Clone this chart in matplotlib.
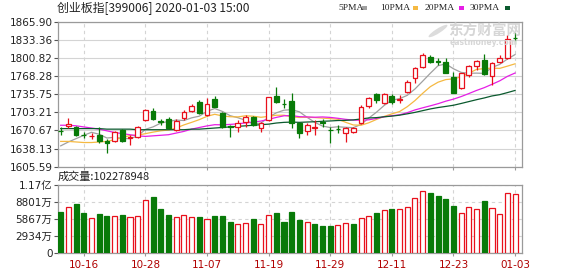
import matplotlib
matplotlib.use('Agg')
import matplotlib.pyplot as plt
from matplotlib.patches import Rectangle, Ellipse

plt.rcParams['font.family'] = ['DejaVu Sans', 'Noto Sans CJK SC']

# --- données (creation board index, daily) ---
dates = ['10-11', '10-14', '10-15', '10-16', '10-17', '10-18', '10-21', '10-22', '10-23', '10-24',
         '10-25', '10-28', '10-29', '10-30', '10-31', '11-01', '11-04', '11-05', '11-06', '11-07',
         '11-08', '11-11', '11-12', '11-13', '11-14', '11-15', '11-18', '11-19', '11-20', '11-21',
         '11-22', '11-25', '11-26', '11-27', '11-28', '11-29', '12-02', '12-03', '12-04', '12-05',
         '12-06', '12-09', '12-10', '12-11', '12-12', '12-13', '12-16', '12-17', '12-18', '12-19',
         '12-20', '12-23', '12-24', '12-25', '12-26', '12-27', '12-30', '12-31', '01-02', '01-03']
opens = [1670.5, 1679.0, 1676.3, 1663.0, 1660.0, 1662.5, 1652.3, 1652.3, 1671.5, 1656.5,
         1659.5, 1689.4, 1706.2, 1687.0, 1690.6, 1671.4, 1692.4, 1706.2, 1722.3, 1698.4,
         1726.5, 1701.4, 1678.6, 1677.4, 1686.4, 1694.2, 1674.4, 1689.4, 1732.5, 1718.7,
         1724.0, 1683.4, 1670.2, 1675.6, 1685.2, 1672.0, 1673.0, 1666.7, 1668.4, 1683.4,
         1714.5, 1736.0, 1719.3, 1732.5, 1725.3, 1740.3, 1764.2, 1785.2, 1801.9, 1794.5,
         1794.1, 1766.0, 1746.3, 1770.2, 1787.0, 1797.1, 1768.4, 1794.1, 1800.1, 1837.0]
highs = [1676.3, 1692.4, 1678.6, 1667.3, 1665.5, 1677.4, 1654.7, 1670.3, 1672.7, 1662.5,
         1678.6, 1708.6, 1710.4, 1690.6, 1695.4, 1690.6, 1707.4, 1718.1, 1725.3, 1728.3,
         1732.5, 1704.4, 1680.4, 1689.4, 1698.4, 1696.0, 1686.4, 1731.3, 1748.0, 1726.5,
         1738.5, 1686.4, 1683.4, 1689.4, 1690.6, 1677.4, 1680.4, 1677.4, 1677.4, 1716.3,
         1731.3, 1737.3, 1737.3, 1736.0, 1734.3, 1761.2, 1785.2, 1809.1, 1806.1, 1800.1,
         1800.1, 1776.2, 1774.4, 1788.2, 1797.1, 1807.9, 1794.1, 1806.1, 1842.0, 1846.2]
lows = [1662.5, 1674.5, 1660.7, 1656.5, 1654.7, 1647.5, 1630.8, 1650.5, 1650.5, 1644.5,
        1656.5, 1688.2, 1689.4, 1680.4, 1672.6, 1670.2, 1689.4, 1704.4, 1700.2, 1696.6,
        1712.1, 1674.4, 1658.3, 1668.4, 1677.4, 1678.0, 1668.4, 1688.2, 1720.5, 1710.3,
        1674.4, 1656.5, 1662.5, 1662.5, 1677.4, 1648.7, 1665.5, 1650.5, 1665.5, 1682.2,
        1710.3, 1720.5, 1718.1, 1718.1, 1720.5, 1737.3, 1755.2, 1782.2, 1791.1, 1788.2,
        1773.2, 1737.3, 1744.5, 1767.2, 1779.2, 1770.2, 1752.3, 1791.1, 1798.3, 1825.9]
closes = [1669.5, 1681.5, 1662.5, 1662.0, 1661.0, 1652.3, 1647.5, 1668.5, 1652.3, 1659.0,
          1676.3, 1707.4, 1690.6, 1686.0, 1674.4, 1688.2, 1703.2, 1714.5, 1701.4, 1717.5,
          1713.3, 1677.4, 1676.2, 1683.4, 1694.2, 1680.4, 1684.6, 1730.1, 1722.3, 1718.1,
          1684.6, 1665.5, 1680.4, 1677.4, 1684.6, 1671.4, 1672.6, 1675.6, 1674.4, 1713.3,
          1728.3, 1725.3, 1736.1, 1722.3, 1726.5, 1758.2, 1782.2, 1806.1, 1794.1, 1794.1,
          1774.4, 1738.5, 1773.2, 1786.4, 1795.3, 1772.0, 1792.3, 1800.1, 1834.2, 1836.0]

ma5 = [1643.0, 1650.0, 1656.0, 1662.0, 1667.3, 1663.9, 1657.1, 1658.3, 1656.3, 1655.9,
       1660.7, 1672.7, 1677.1, 1683.9, 1686.9, 1689.3, 1688.5, 1693.3, 1696.3, 1705.0,
       1710.0, 1704.8, 1697.2, 1693.6, 1688.9, 1682.3, 1683.8, 1694.5, 1702.3, 1707.1,
       1707.9, 1704.1, 1694.2, 1685.2, 1678.5, 1675.9, 1677.3, 1676.3, 1675.7, 1681.5,
       1692.8, 1703.4, 1715.5, 1725.1, 1727.7, 1733.7, 1745.1, 1759.1, 1773.4, 1786.9,
       1790.2, 1781.4, 1774.9, 1773.3, 1773.6, 1773.1, 1783.8, 1789.2, 1798.8, 1806.9]
ma10 = [1651.0, 1651.0, 1650.0, 1649.0, 1649.0, 1650.0, 1651.0, 1654.0, 1658.0, 1661.6,
        1662.3, 1664.9, 1667.7, 1670.1, 1671.4, 1675.0, 1680.6, 1685.2, 1690.1, 1696.0,
        1699.7, 1696.7, 1695.3, 1695.0, 1697.0, 1696.2, 1694.3, 1695.9, 1698.0, 1698.0,
        1695.1, 1694.0, 1694.4, 1693.8, 1692.8, 1691.9, 1690.7, 1685.3, 1680.5, 1680.0,
        1684.4, 1690.4, 1695.9, 1700.4, 1704.6, 1713.3, 1724.3, 1737.3, 1749.3, 1757.3,
        1762.0, 1763.3, 1767.0, 1773.4, 1780.3, 1781.7, 1782.6, 1782.1, 1786.1, 1790.3]
ma20 = [1680.0, 1680.0, 1679.0, 1677.0, 1675.0, 1673.0, 1670.0, 1667.0, 1665.0, 1663.0,
        1661.0, 1660.0, 1661.0, 1662.0, 1663.0, 1666.0, 1669.0, 1673.0, 1676.0, 1678.8,
        1681.0, 1680.8, 1681.5, 1682.6, 1684.2, 1685.6, 1687.5, 1690.6, 1694.1, 1697.0,
        1697.4, 1695.4, 1694.9, 1694.4, 1694.9, 1694.1, 1692.5, 1690.6, 1689.3, 1689.0,
        1689.8, 1692.2, 1695.2, 1697.1, 1698.7, 1702.6, 1707.5, 1711.3, 1714.9, 1718.7,
        1723.2, 1726.9, 1731.5, 1736.9, 1742.5, 1747.5, 1753.5, 1759.7, 1767.7, 1773.8]
ma30 = [1674.0, 1674.0, 1674.0, 1674.0, 1674.0, 1674.0, 1673.0, 1673.0, 1673.0, 1673.0,
        1672.0, 1672.0, 1672.0, 1672.0, 1672.0, 1672.0, 1672.0, 1673.0, 1673.0, 1674.0,
        1675.0, 1676.0, 1677.0, 1678.0, 1679.0, 1680.0, 1681.0, 1682.0, 1684.0, 1685.2,
        1685.7, 1685.2, 1685.8, 1686.3, 1687.1, 1687.7, 1688.5, 1688.8, 1689.6, 1691.3,
        1693.1, 1693.7, 1695.2, 1696.4, 1698.1, 1700.5, 1703.1, 1706.2, 1709.3, 1711.8,
        1713.8, 1715.9, 1719.1, 1722.5, 1725.9, 1729.0, 1732.6, 1734.9, 1738.6, 1742.5]

# volume en 万 (10k shares)
volumes = [7148, 8007, 8419, 6976, 6014, 6753, 6461, 6461, 6581, 6237,
           6409, 9158, 9725, 7612, 6581, 6237, 6581, 6237, 6237, 5893,
           6409, 6409, 5430, 4983, 5258, 5893, 5086, 6581, 6873, 5430,
           7153, 5722, 5321, 5034, 4691, 4691, 4863, 5155, 5034, 6014,
           6409, 6981, 7440, 7612, 7612, 8012, 9444, 10704, 10303, 9902,
           9330, 8184, 6867, 7955, 7612, 8986, 7840, 6752, 10361, 10228]
vol_up = [0, 1, 0, 0, 1, 0, 0, 1, 0, 1, 1, 1, 0, 0, 0, 1, 1, 1, 0, 1,
          0, 0, 0, 1, 1, 0, 1, 1, 0, 0, 0, 0, 1, 0, 0, 0, 1, 1, 0, 1,
          1, 0, 1, 0, 1, 1, 1, 1, 0, 0, 0, 0, 1, 1, 1, 0, 1, 1, 1, 1]

price_ticks = [1605.59, 1638.13, 1670.67, 1703.21, 1735.75, 1768.28, 1800.82, 1833.36, 1865.90]
vol_ticks = [0, 2934, 5867, 8801, 11735]
vol_tick_labels = ['0', '2934万', '5867万', '8801万', '1.17亿']
label_idx = [3, 11, 19, 27, 35, 43, 51, 59]
last_volume = 102278948

ma_names = ['5PMA', '10PMA', '20PMA', '30PMA']
ma_colors = ['#a0a0a0', '#f5b942', '#e61ee6', '#0b5a2e']

RED = '#e8101c'
GREEN = '#087a08'
GRID = '#d4d4d4'
SPINE = '#9a9a9a'

fig = plt.figure(figsize=(5.78, 2.76), dpi=100)
ax = fig.add_axes([58 / 578, 1 - 166.7 / 276, 464 / 578, 145 / 276])
axv = fig.add_axes([58 / 578, 1 - 253.3 / 276, 464 / 578, 68.3 / 276])

x = list(range(len(closes)))
xlim = (-0.35, 59.9)

# chandeliers
for i in x:
    o, h, l, c = opens[i], highs[i], lows[i], closes[i]
    up = c >= o
    col = RED if up else GREEN
    ax.vlines(i, l, h, color=col, linewidth=0.9, zorder=3)
    bottom = min(o, c)
    height = max(abs(c - o), 0.5)
    ax.bar(i, height, bottom=bottom, width=0.62, facecolor='white' if up else col,
           edgecolor=col, linewidth=0.9, zorder=4)

for vals, col in zip([ma5, ma10, ma20, ma30], ma_colors):
    ax.plot(x, vals, color=col, linewidth=0.9, zorder=2)

ax.set_xlim(*xlim)
ax.set_ylim(price_ticks[0], price_ticks[-1])
ax.set_yticks(price_ticks)
ax.set_yticklabels([f'{t:.2f}' for t in price_ticks])
ax.set_xticks(label_idx)
ax.set_xticklabels([])
ax.grid(axis='y', color=GRID, linewidth=0.8, linestyle='-')
ax.grid(axis='x', color=GRID, linewidth=0.8, linestyle=(0, (3, 3)))

# volume
for i in x:
    col = RED if vol_up[i] else GREEN
    axv.bar(i, volumes[i], width=0.66, facecolor='white' if vol_up[i] else col,
            edgecolor=col, linewidth=0.9, zorder=3)
axv.set_xlim(*xlim)
axv.set_ylim(0, vol_ticks[-1])
axv.set_yticks(vol_ticks)
axv.set_yticklabels(vol_tick_labels)
axv.set_xticks(label_idx)
axv.set_xticklabels([dates[i] for i in label_idx], color='#b00000')
axv.grid(axis='y', color=GRID, linewidth=0.8, linestyle=(0, (3, 3)))
axv.grid(axis='x', color=GRID, linewidth=0.8, linestyle=(0, (3, 3)))

for a in (ax, axv):
    a.set_axisbelow(True)
    for s in a.spines.values():
        s.set_color(SPINE)
        s.set_linewidth(0.9)
    a.tick_params(axis='y', length=3, width=0.8, color='#555555', pad=1, labelsize=7.5,
                  labelcolor='#222222')
    a.tick_params(axis='x', length=2, width=0.8, color=SPINE, pad=3, labelsize=7.5)

# textes
fig.text(57 / 578, 1 - 8 / 276, '创业板指[399006] 2020-01-03 15:00', fontsize=8.6,
         family=['Noto Sans CJK SC', 'DejaVu Sans'], va='center', ha='left', color='#222222')
fig.text(58 / 578, 1 - 177 / 276, f'成交量:{last_volume}', fontsize=8,
         family=['Noto Sans CJK SC', 'DejaVu Sans'], va='center', ha='left', color='#222222')

legend_x = [338, 380, 425, 470]
swatch_x = [362, 413, 459, 505]
for name, col, lx, sx in zip(ma_names, ma_colors, legend_x, swatch_x):
    fig.text(lx / 578, 1 - 8 / 276, name, fontsize=6.8, va='center', ha='left',
             color='#222222', family=['Liberation Serif', 'DejaVu Serif'])
    fig.patches.append(Rectangle((sx / 578, 1 - 9.5 / 276), 5 / 578, 3 / 276,
                                 transform=fig.transFigure, facecolor=col, edgecolor='none'))

# filigrane
fig.patches.append(Ellipse((438 / 578, 1 - 31 / 276), 7 / 578, 15 / 276, angle=-35,
                           transform=fig.transFigure, facecolor='#dcdcdc', edgecolor='none'))
fig.text(448 / 578, 1 - 31 / 276, '东方财富网', fontsize=10.5, color='#d6d6d6',
         family=['Noto Sans CJK SC'], va='center', ha='left', fontweight='bold', zorder=1)
fig.text(450 / 578, 1 - 42.5 / 276, 'eastmoney.com', fontsize=5.5, color='#d6d6d6',
         va='center', ha='left', fontweight='bold', zorder=1)

fig.savefig('out.png', dpi=100)
